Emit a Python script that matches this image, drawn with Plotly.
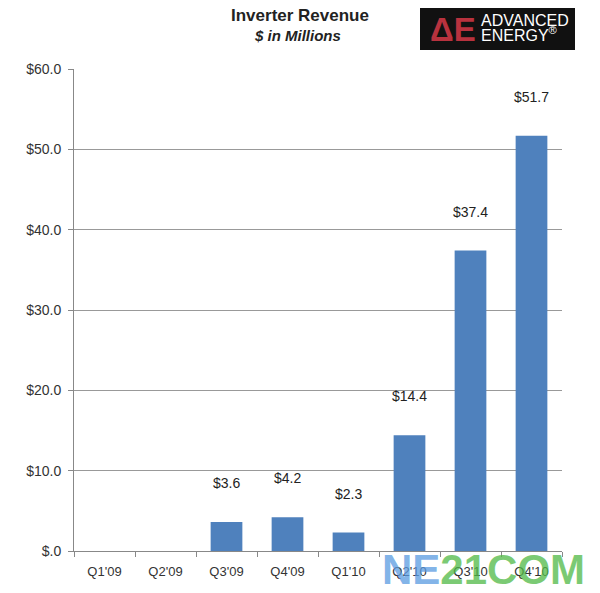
import plotly.graph_objects as go

quarters = ["Q1'09", "Q2'09", "Q3'09", "Q4'09", "Q1'10", "Q2'10", "Q3'10", "Q4'10"]
revenue = [None, None, 3.6, 4.2, 2.3, 14.4, 37.4, 51.7]
y_ticks = [0, 10, 20, 30, 40, 50, 60]
y_tick_labels = ["$.0", "$10.0", "$20.0", "$30.0", "$40.0", "$50.0", "$60.0"]

# plot area in screenshot pixels (page has an 8px body offset)
X0, X1, Y0, Y1 = 74, 562, 69, 551
def px(x):
    return (x - X0) / (X1 - X0)
def py(y):
    return (Y1 - y) / (Y1 - Y0)

fig = go.Figure()
fig.add_trace(go.Bar(x=quarters, y=revenue, marker=dict(color="#4F81BD", line=dict(width=0)),
                     hoverinfo="x+y"))

for q, v in zip(quarters, revenue):
    if v is not None:
        fig.add_annotation(x=q, y=v, text=f"${v:.1f}", showarrow=False, yshift=39,
                           font=dict(family="Liberation Sans, Arial", size=14, color="#222"))

fig.update_layout(
    width=600, height=593,
    margin=dict(l=66, r=46, t=61, b=50),
    paper_bgcolor="white", plot_bgcolor="white",
    bargap=0.48, showlegend=False,
    font=dict(family="Liberation Sans, Arial", size=12, color="#333"),
)
fig.update_yaxes(range=[0, 60], tickvals=y_ticks, ticktext=y_tick_labels,
                 showgrid=True, gridcolor="#999", gridwidth=1,
                 showline=True, linecolor="#888", linewidth=1,
                 ticks="outside", ticklen=5, tickcolor="#888", ticklabelstandoff=4,
                 tickfont=dict(size=14, color="#333"), zeroline=False, fixedrange=True)
fig.update_xaxes(showline=True, linecolor="#888", linewidth=1,
                 ticks="outside", ticklen=5, tickcolor="#888", tickson="boundaries",
                 ticklabelstandoff=8,
                 tickfont=dict(size=13, color="#333"), fixedrange=True)

# Title
fig.add_annotation(xref="paper", yref="paper", x=px(300), y=py(16), yanchor="middle", xanchor="center",
                   text="<b>Inverter Revenue</b>", showarrow=False, font=dict(size=17, color="#222"))
fig.add_annotation(xref="paper", yref="paper", x=px(297), y=py(35), yanchor="middle", xanchor="center",
                   text="<b><i>$ in Millions</i></b>", showarrow=False, font=dict(size=15, color="#222"))

# Logo
fig.add_shape(type="rect", xref="paper", yref="paper", x0=px(420), x1=px(575),
              y0=py(50), y1=py(3), fillcolor="#111", line=dict(width=0))
fig.add_annotation(xref="paper", yref="paper", x=px(428), y=py(29), yanchor="middle", xanchor="left",
                   text="<b>ΔE</b>", showarrow=False, font=dict(size=33, color="#B8323E"))
fig.add_annotation(xref="paper", yref="paper", x=px(479), y=py(21), yanchor="middle", xanchor="left",
                   text="ADVANCED", showarrow=False, font=dict(size=16, color="white"))
fig.add_annotation(xref="paper", yref="paper", x=px(479), y=py(34), yanchor="middle", xanchor="left",
                   text="ENERGY<sup>®</sup>", showarrow=False, font=dict(size=16, color="white"))

# Watermark
fig.add_annotation(xref="paper", yref="paper", x=px(380), y=py(569), yanchor="middle", xanchor="left",
                   text="<b><span style='color:rgba(90,155,225,0.75)'>NE</span>"
                        "<span style='color:rgba(80,185,70,0.75)'>21COM</span></b>",
                   showarrow=False, font=dict(size=42))

fig.write_html("out.html")
